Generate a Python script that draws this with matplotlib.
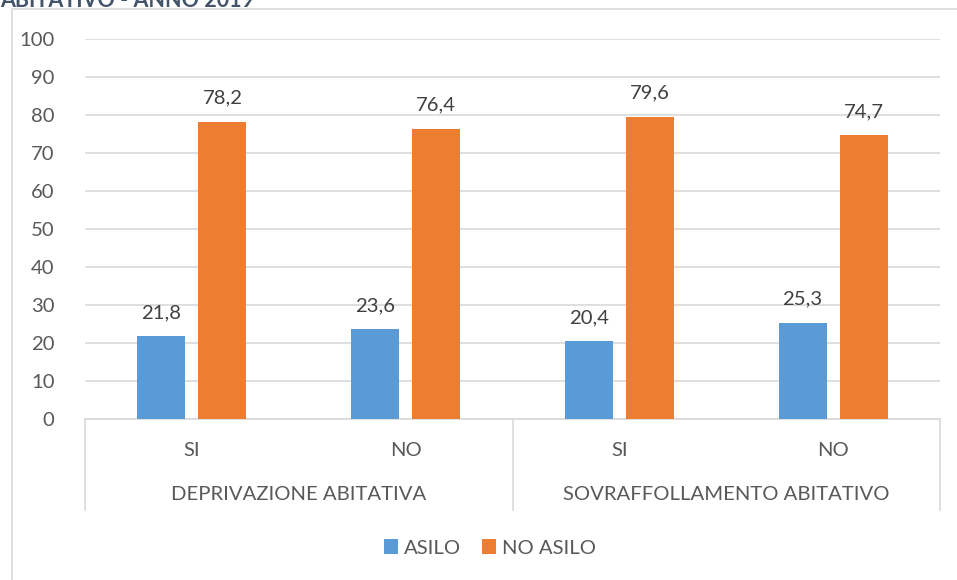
import matplotlib
matplotlib.use('Agg')
import matplotlib.pyplot as plt
from matplotlib.lines import Line2D
from matplotlib.patches import Rectangle
import numpy as np

plt.rcParams['font.family'] = ['Lato', 'DejaVu Sans']

groups = ['DEPRIVAZIONE ABITATIVA', 'SOVRAFFOLLAMENTO ABITATIVO']
categories = ['SI', 'NO', 'SI', 'NO']
asilo = [21.8, 23.6, 20.4, 25.3]
no_asilo = [78.2, 76.4, 79.6, 74.7]
series_names = ['ASILO', 'NO ASILO']
colors = ['#5B9BD5', '#ED7D31']

W, H = 957, 580
fs = 14.6
fig = plt.figure(figsize=(W / 100, H / 100), dpi=100)

# outer chart border (cropped screenshot)
fig.patches.append(Rectangle((12 / W, -0.01), 1.1, (H - 9) / H + 0.01, transform=fig.transFigure,
                             fill=False, edgecolor='#D9D9D9', linewidth=1.2, clip_on=False))
# cut-off title at the top
fig.text(0, 1 + 10 / H, 'ABITATIVO - ANNO 2019', fontsize=15.5, fontweight='bold', color='#44546A',
         ha='left', va='top')

ax = fig.add_axes([85 / W, (H - 419) / H, (940 - 85) / W, (419 - 39) / H])
x = np.arange(len(categories))
bw = 0.225
off = 0.143
ax.bar(x - off, asilo, bw, color=colors[0], label=series_names[0], zorder=3)
ax.bar(x + off, no_asilo, bw, color=colors[1], label=series_names[1], zorder=3)

for i in range(len(categories)):
    ax.text(x[i] - off, asilo[i] + 4, f'{asilo[i]:.1f}'.replace('.', ','), ha='center', va='bottom',
            fontsize=fs, color='#404040')
    ax.text(x[i] + off, no_asilo[i] + 4, f'{no_asilo[i]:.1f}'.replace('.', ','), ha='center', va='bottom',
            fontsize=fs, color='#404040')

ax.set_xlim(-0.5, len(categories) - 0.5)
ax.set_ylim(0, 100)
ax.set_yticks(range(0, 101, 10))
ax.yaxis.grid(True, color='#D9D9D9', linewidth=1.2, zorder=0)
ax.tick_params(axis='y', length=0, labelsize=fs, labelcolor='#595959', pad=22)
ax.tick_params(axis='x', length=0, labelbottom=False)
for s in ['top', 'right', 'left']:
    ax.spines[s].set_visible(False)
ax.spines['bottom'].set_color('#D9D9D9')
ax.spines['bottom'].set_linewidth(1.2)

# category and group labels under the axis
trans = ax.get_xaxis_transform()
axh = 419 - 39
for i, c in enumerate(categories):
    ax.text(x[i], -(450 - 419) / axh, c, transform=trans, ha='center', va='center',
            fontsize=fs, color='#595959')
for g, name in enumerate(groups):
    ax.text(2 * g + 0.5, -(495 - 419) / axh, name, transform=trans, ha='center', va='center',
            fontsize=fs, color='#595959')
for xs in [-0.5, 1.5, 3.5]:
    ax.add_line(Line2D([xs, xs], [0, -(510 - 419) / axh], transform=trans, color='#D9D9D9',
                       linewidth=1.2, clip_on=False))

ax.legend(loc='center', bbox_to_anchor=(490 / W, 1 - 548 / H), bbox_transform=fig.transFigure,
          ncol=2, frameon=False, fontsize=fs, handlelength=0.7, handleheight=0.7,
          handletextpad=0.3, columnspacing=1.0, labelcolor='#595959')

fig.savefig('out.png', dpi=100)
